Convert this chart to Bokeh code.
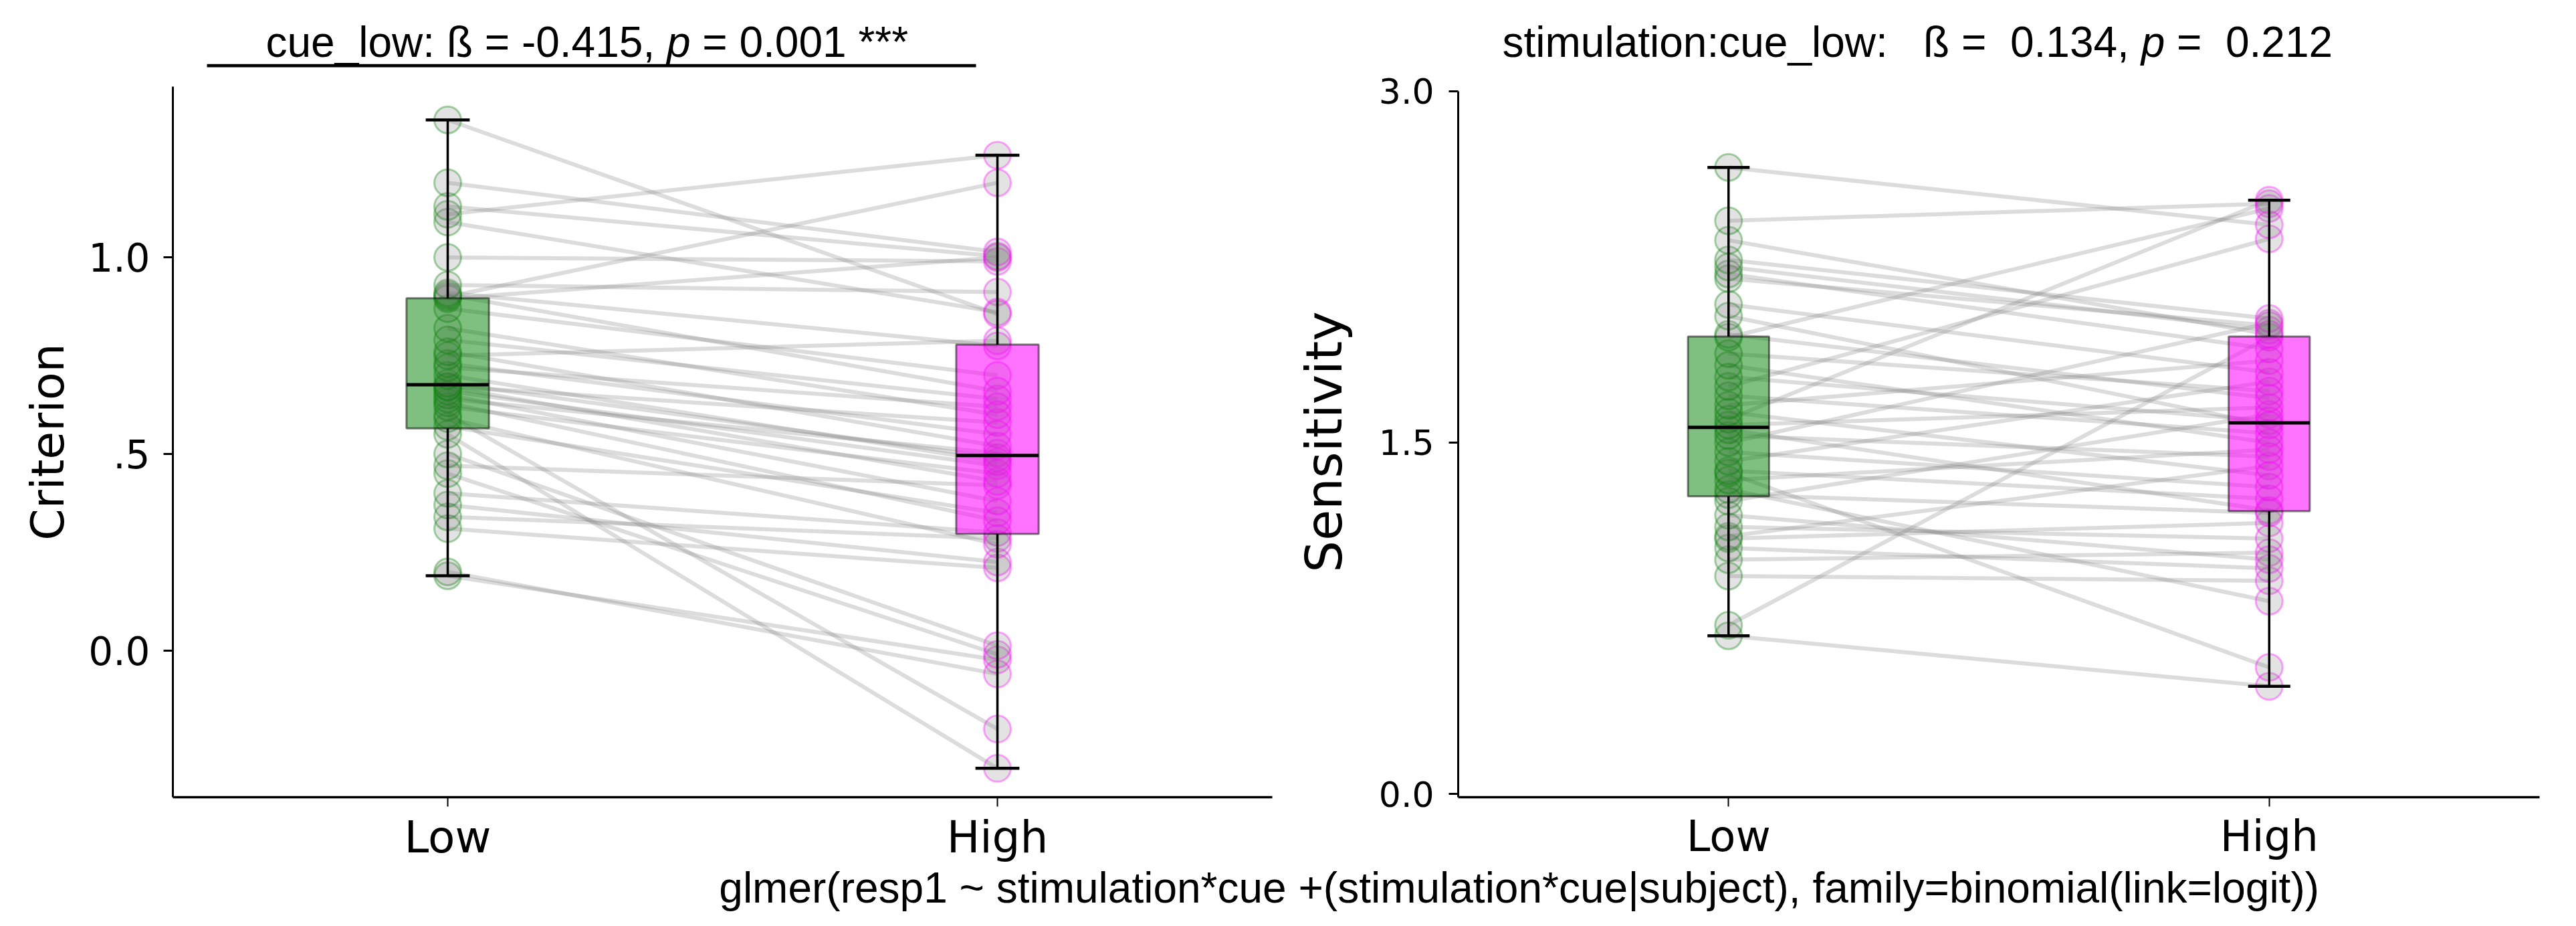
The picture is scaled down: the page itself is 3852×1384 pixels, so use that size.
import numpy as np
from bokeh.plotting import figure
from bokeh.models import ColumnDataSource, FixedTicker, Range1d, Label, Arrow
from bokeh.layouts import row, column
from bokeh.embed import file_html
from bokeh.resources import INLINE

# ---------------- data ----------------
categories = ["Low", "High"]
category_colors = ["green", "magenta"]

# one entry per subject (paired Low / High)
criterion_low = [0.19, 0.20, 0.31, 0.34, 0.37, 0.40, 0.45, 0.47, 0.50, 0.55,
                 0.57, 0.59, 0.60, 0.62, 0.63, 0.64, 0.65, 0.66, 0.67, 0.672,
                 0.68, 0.70, 0.72, 0.73, 0.75, 0.76, 0.79, 0.82, 0.87, 0.895,
                 0.90, 0.905, 0.91, 0.93, 1.00, 1.09, 1.11, 1.13, 1.19, 1.35]
criterion_high = [-0.024, -0.06, 0.21, 0.285, 0.225, 0.30, -0.01, 0.42, 0.012, -0.30,
                  0.35, 0.27, -0.20, 0.45, 0.33, 0.502, 0.38, 0.47, 0.43, 0.58,
                  0.49, 0.48, 0.62, 0.55, 0.788, 0.52, 0.64, 0.60, 0.70, 1.00,
                  1.19, 0.66, 0.775, 0.912, 0.99, 0.861, 1.26, 1.003, 1.014, 0.856]

sensitivity_low = [0.675, 0.72, 0.93, 1.00, 1.05, 1.09, 1.10, 1.14, 1.19, 1.25,
                   1.278, 1.30, 1.34, 1.37, 1.38, 1.42, 1.46, 1.50, 1.53, 1.555,
                   1.575, 1.60, 1.63, 1.66, 1.70, 1.74, 1.78, 1.83, 1.88, 1.95,
                   1.962, 2.04, 2.09, 2.20, 2.22, 2.25, 2.28, 2.364, 2.447, 2.675]
sensitivity_high = [0.459, 1.95, 0.91, 1.03, 0.963, 1.157, 1.40, 1.09, 1.00, 1.62,
                    1.20, 0.823, 1.47, 0.54, 1.26, 1.76, 1.31, 2.01, 1.44, 1.21,
                    1.65, 2.535, 1.36, 1.85, 1.54, 2.37, 1.593, 1.50, 1.72, 2.50,
                    1.69, 1.575, 1.80, 2.00, 1.90, 1.98, 2.03, 1.962, 2.52, 2.43]

criterion_ticks = [0.0, 0.5, 1.0]
criterion_tick_labels = ["0.0", ".5", "1.0"]
sensitivity_ticks = [0.0, 1.5, 3.0]
sensitivity_tick_labels = ["0.0", "1.5", "3.0"]

criterion_ylabel = "Criterion"
sensitivity_ylabel = "Sensitivity"

left_title_parts = ["cue_low: ß = -0.415,", "p", "= 0.001 ***"]
right_title_parts = ["stimulation:cue_low:", "ß =", "0.134,", "p", "=", "0.212"]
formula_text = "glmer(resp1 ~ stimulation*cue +(stimulation*cue|subject), family=binomial(link=logit))"

# ---------------- layout constants (picture pixels) ----------------
TOTAL_W = 3836
TITLE_H = 103
P3_H = 76
ROW_Y0 = TITLE_H
ROW_H = 1368 - P3_H - TITLE_H
P1_W = 1908
P2_W = TOTAL_W - P1_W
FRAME_TOP = 129
FRAME_BOTTOM = 1194
FR1 = dict(l=258, r=1902)
FR2 = dict(l=2180, r=3797)
XR = (-0.5, 1.5)
# value->pixel anchors
YR1 = ((974 - FRAME_BOTTOM) / 589.0, (974 - FRAME_TOP) / 589.0)
YR2 = ((1189 - FRAME_BOTTOM) / 351.0, (1189 - FRAME_TOP) / 351.0)
SPINE_TOP2 = 3.0

TITLE_FONT = "Liberation Sans"
TICK_FONT = "DejaVu Sans"
BASELINE_FIX = 26  # Label 'alphabetic' placement correction (px)


def box_stats(v):
    v = np.asarray(v, dtype=float)
    q1, med, q3 = np.percentile(v, [25, 50, 75])
    iqr = q3 - q1
    lo = v[v >= q1 - 1.5 * iqr].min()
    hi = v[v <= q3 + 1.5 * iqr].max()
    return q1, med, q3, lo, hi


def make_panel(low, high, canvas_x0, width, fr, yr, spine_top, ticks, tick_labels,
               ylabel, ylabel_size, ylabel_standoff,
               ytick_size, xtick_size, ystand, xstand, cap_half):
    p = figure(width=width, height=ROW_H, x_range=Range1d(*XR), y_range=Range1d(*yr),
               output_backend="svg", toolbar_location=None, title=None,
               min_border_left=fr["l"] - canvas_x0,
               min_border_right=canvas_x0 + width - fr["r"],
               min_border_top=FRAME_TOP - ROW_Y0,
               min_border_bottom=ROW_Y0 + ROW_H - FRAME_BOTTOM)
    p.grid.visible = False
    p.outline_line_color = None
    p.background_fill_color = "white"
    p.border_fill_color = "white"

    n = len(low)
    pos = {c: i for i, c in enumerate(categories)}
    src = ColumnDataSource(dict(
        x0=np.full(n, pos["Low"], dtype=float), x1=np.full(n, pos["High"], dtype=float),
        low=low, high=high))
    # subject lines
    p.segment(x0="x0", y0="low", x1="x1", y1="high", source=src,
              line_color="gray", line_alpha=0.28, line_width=6)
    # points
    for cat, col, vals in zip(categories, category_colors, [low, high]):
        ps = ColumnDataSource(dict(x=np.full(n, pos[cat], dtype=float), y=vals))
        p.scatter(x="x", y="y", source=ps, size=40, marker="circle",
                  fill_color="gray", fill_alpha=0.22,
                  line_color=col, line_alpha=0.35, line_width=3)
    # boxes
    half = 0.075
    for cat, col, vals in zip(categories, category_colors, [low, high]):
        q1, med, q3, lo, hi = box_stats(vals)
        x = pos[cat]
        p.quad(left=[x - half], right=[x + half], bottom=[q1], top=[q3],
               fill_color=col, fill_alpha=0.5 if col == "green" else 0.55,
               line_color="black", line_alpha=0.5, line_width=3)
        p.segment(x0=[x, x], y0=[q3, q1], x1=[x, x], y1=[hi, lo],
                  line_color="black", line_width=3.5)
        p.segment(x0=[x - cap_half, x - cap_half], y0=[hi, lo],
                  x1=[x + cap_half, x + cap_half], y1=[hi, lo],
                  line_color="black", line_width=4.5)
        p.segment(x0=[x - half], y0=[med], x1=[x + half], y1=[med],
                  line_color="black", line_width=5)

    # axes
    p.xaxis.ticker = FixedTicker(ticks=[float(pos[c]) for c in categories])
    p.xaxis.major_label_overrides = {float(pos[c]): c for c in categories}
    p.xaxis.axis_line_width = 3.5
    p.xaxis.axis_line_color = "black"
    p.xaxis.major_tick_line_width = 2
    p.xaxis.major_tick_out = 14
    p.xaxis.major_tick_in = 0
    p.xaxis.minor_tick_line_color = None
    p.xaxis.major_label_text_font = TICK_FONT
    p.xaxis.major_label_text_font_size = xtick_size
    p.xaxis.major_label_text_color = "black"
    p.xaxis.major_label_standoff = xstand

    if spine_top is not None:
        p.yaxis.bounds = (yr[0], spine_top)
    p.yaxis.ticker = FixedTicker(ticks=ticks)
    p.yaxis.major_label_overrides = dict(zip(ticks, tick_labels))
    p.yaxis.axis_line_width = 3
    p.yaxis.axis_line_color = "black"
    p.yaxis.major_tick_line_width = 3
    p.yaxis.major_tick_out = 14
    p.yaxis.major_tick_in = 0
    p.yaxis.minor_tick_line_color = None
    p.yaxis.major_label_text_font = TICK_FONT
    p.yaxis.major_label_text_font_size = ytick_size
    p.yaxis.major_label_text_color = "black"
    p.yaxis.major_label_standoff = ystand
    p.yaxis.axis_label = ylabel
    p.yaxis.axis_label_text_font = TICK_FONT
    p.yaxis.axis_label_text_font_style = "normal"
    p.yaxis.axis_label_text_font_size = ylabel_size
    p.yaxis.axis_label_text_color = "black"
    p.yaxis.axis_label_standoff = ylabel_standoff
    return p


def text_strip(w, h):
    """A plain figure whose data coordinates equal its pixels (y measured from its top)."""
    t = figure(width=w, height=h, x_range=Range1d(0, w), y_range=Range1d(h, 0),
               output_backend="svg", toolbar_location=None, title=None,
               x_axis_location=None, y_axis_location=None, min_border=0)
    t.grid.visible = False
    t.outline_line_color = None
    t.background_fill_color = "white"
    t.border_fill_color = "white"
    return t


fs = 64
em = fs / 1000.0

# ---------------- titles strip ----------------
tfig = text_strip(TOTAL_W, TITLE_H)
TITLE_BASELINE = 88
lx0 = 397
left_units = [0, 9366, 9366 + 556 + 278]
left_styles = ["normal", "italic", "normal"]
for txt, u, style in zip(left_title_parts, left_units, left_styles):
    tfig.add_layout(Label(x=lx0 + u * em, y=TITLE_BASELINE - BASELINE_FIX, text=txt,
                          text_align="left", text_baseline="alphabetic",
                          text_font=TITLE_FONT, text_font_style=style,
                          text_font_size=f"{fs}px", text_color="black"))
tfig.add_layout(Arrow(end=None, x_start=309, y_start=97.6, x_end=1459, y_end=97.6,
                      line_color="black", line_width=4.6))

rx0 = 2246
right_units = [0, 9837, 9837 + 611 + 278 + 584 + 556,
               9837 + 611 + 278 + 584 + 556 + 2502 + 278 + 278,
               9837 + 611 + 278 + 584 + 556 + 2502 + 278 + 278 + 556 + 278,
               9837 + 611 + 278 + 584 + 556 + 2502 + 278 + 278 + 556 + 278 + 584 + 556]
right_styles = ["normal", "normal", "normal", "italic", "normal", "normal"]
for txt, u, style in zip(right_title_parts, right_units, right_styles):
    tfig.add_layout(Label(x=rx0 + u * em, y=TITLE_BASELINE - BASELINE_FIX, text=txt,
                          text_align="left", text_baseline="alphabetic",
                          text_font=TITLE_FONT, text_font_style=style,
                          text_font_size=f"{fs}px", text_color="black"))

# ---------------- panels ----------------
p1 = make_panel(criterion_low, criterion_high, 0, P1_W, FR1, YR1, None,
                criterion_ticks, criterion_tick_labels,
                criterion_ylabel, "68px", 18,
                "58px", "66px", 20, 7, 0.04)
p2 = make_panel(sensitivity_low, sensitivity_high, P1_W, P2_W, FR2, YR2, SPINE_TOP2,
                sensitivity_ticks, sensitivity_tick_labels,
                sensitivity_ylabel, "75px", 35,
                "52px", "64px", 22, 7, 0.039)

# ---------------- bottom formula ----------------
FORMULA_FS = 64
p3 = text_strip(TOTAL_W, P3_H)
p3_top = ROW_Y0 + ROW_H
FORMULA_BASELINE = p3_top + P3_H / 2 + 0.3465 * FORMULA_FS
formula_w = 37.381 * FORMULA_FS
formula_x = 2273 - formula_w / 2 - 2
p3.add_layout(Label(x=formula_x, y=FORMULA_BASELINE - BASELINE_FIX - p3_top, text=formula_text,
                    text_align="left", text_baseline="alphabetic",
                    text_font=TITLE_FONT, text_font_size=f"{FORMULA_FS}px", text_color="black"))

layout = column(tfig, row(p1, p2), p3)
open("out.html", "w").write(file_html(layout, INLINE))
